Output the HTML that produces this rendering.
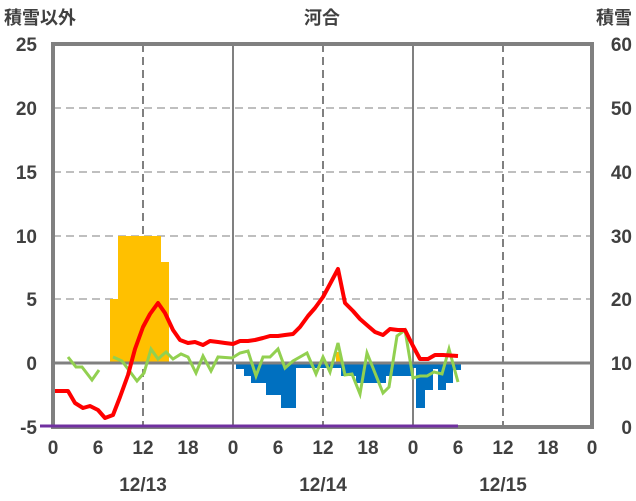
<!DOCTYPE html>
<html><head><meta charset="utf-8"><style>body{margin:0;background:#fff}svg{display:block;font-family:"Liberation Sans","Noto Sans CJK JP",sans-serif}</style></head><body>
<svg width="636" height="501" viewBox="0 0 636 501">
<g font-size="18" fill="#404040" font-weight="bold">
<text x="4" y="24">積雪以外</text>
<text x="322" y="24" text-anchor="middle">河合</text>
<text x="632" y="24" text-anchor="end">積雪</text>
</g>
<g stroke="#bfbfbf" stroke-width="2" stroke-dasharray="8,5">
<line x1="53" y1="108" x2="592" y2="108"/><line x1="53" y1="172" x2="592" y2="172"/><line x1="53" y1="236" x2="592" y2="236"/><line x1="53" y1="299" x2="592" y2="299"/>
</g>
<g stroke="#808080" stroke-width="2" stroke-dasharray="8,5">
<line x1="143" y1="44" x2="143" y2="427"/><line x1="323" y1="44" x2="323" y2="427"/><line x1="503" y1="44" x2="503" y2="427"/>
</g>
<g stroke="#808080" stroke-width="2"><line x1="233" y1="44" x2="233" y2="427"/><line x1="413" y1="44" x2="413" y2="427"/></g>
<g fill="#ffc000">
<rect x="110" y="299" width="8" height="64"/><rect x="118" y="236" width="43" height="127"/><rect x="161" y="262" width="8" height="101"/><rect x="336" y="352" width="5" height="11"/>
</g>
<g fill="#0070c0">
<rect x="236" y="363" width="8" height="6"/><rect x="244" y="363" width="7" height="13"/><rect x="251" y="363" width="15" height="20"/><rect x="266" y="363" width="15" height="32"/><rect x="281" y="363" width="15" height="45"/><rect x="296" y="363" width="45" height="5"/><rect x="341" y="363" width="15" height="13"/><rect x="356" y="363" width="30" height="20"/><rect x="386" y="363" width="27" height="13"/><rect x="413" y="363" width="3" height="5"/><rect x="416" y="363" width="9" height="45"/><rect x="425" y="363" width="8" height="27"/><rect x="433" y="363" width="5" height="6"/><rect x="438" y="363" width="8" height="27"/><rect x="446" y="363" width="7" height="20"/><rect x="453" y="363" width="8" height="7"/>
</g>
<line x1="53" y1="363" x2="592" y2="363" stroke="#808080" stroke-width="3"/>
<polyline fill="none" stroke="#92d050" stroke-width="3" points="68,357 76,367 82,367 92,380 99,370"/>
<polyline fill="none" stroke="#92d050" stroke-width="3" points="113,357 122,361 137,381 144,373 151,349 158,359 166,352 173,359 181,354 188,357 196,373 203,356 211,371 218,357 232,358 240,353 248,351 256,376 263,357 270,357 278,349 285,368 293,361 307,353 316,374 323,357 330,372 338,343 345,375 352,374 360,394 367,353 375,373 383,393 389,387 397,336 405,330 413,378 420,376 427,376 434,372 442,374 449,349 458,382"/>
<polyline fill="none" stroke="#ff0000" stroke-width="4" stroke-linejoin="round" points="53,391 68,391 75,403 83,408 90,406 98,410 105,418 113,415 120,397 128,375 135,349 143,327 150,314 158,303 165,313 173,330 180,340 188,343 195,342 203,345 210,341 218,342 225,343 233,344 240,341 248,341 255,340 263,338 270,336 278,336 285,335 293,334 300,327 308,316 315,308 323,297 330,284 338,269 345,303 353,311 360,319 368,326 375,332 383,335 390,329 398,330 405,330 413,346 420,359 428,359 435,355 443,355 458,356"/>
<rect x="53" y="44" width="539" height="383" fill="none" stroke="#808080" stroke-width="4"/>
<line x1="40" y1="426" x2="458" y2="426" stroke="#7030a0" stroke-width="3"/>
<g font-size="19" fill="#404040" text-anchor="end" font-weight="bold">
<text x="37" y="51">25</text><text x="37" y="115">20</text><text x="37" y="179">15</text><text x="37" y="243">10</text><text x="37" y="306">5</text><text x="37" y="370">0</text><text x="37" y="434">-5</text>
</g>
<g font-size="19" fill="#404040" text-anchor="end" font-weight="bold">
<text x="632" y="51">60</text><text x="632" y="115">50</text><text x="632" y="179">40</text><text x="632" y="243">30</text><text x="632" y="306">20</text><text x="632" y="370">10</text><text x="632" y="434">0</text>
</g>
<g font-size="19" fill="#404040" text-anchor="middle" font-weight="bold">
<text x="53" y="454">0</text><text x="98" y="454">6</text><text x="143" y="454">12</text><text x="188" y="454">18</text>
<text x="233" y="454">0</text><text x="278" y="454">6</text><text x="323" y="454">12</text><text x="368" y="454">18</text>
<text x="413" y="454">0</text><text x="458" y="454">6</text><text x="503" y="454">12</text><text x="548" y="454">18</text><text x="592" y="454">0</text>
<text x="143" y="491">12/13</text><text x="323" y="491">12/14</text><text x="503" y="491">12/15</text>
</g>
</svg>
</body></html>
